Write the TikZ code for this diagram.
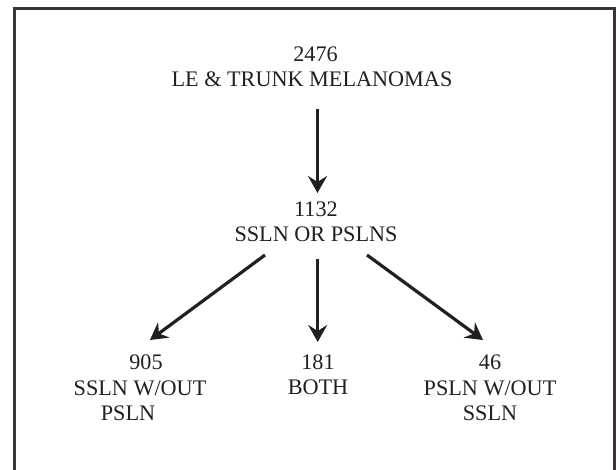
\documentclass[tikz,border=0pt]{standalone}
\usepackage{fontspec}
\setmainfont{Liberation Serif}
\usetikzlibrary{arrows.meta}
\definecolor{ink}{HTML}{231F20}
\tikzset{
  lbl/.style={align=center, inner sep=0pt, text=ink, font=\fontsize{22.3}{25.5}\selectfont},
  arr/.style={draw=ink, line width=3.2bp, -{Stealth[length=17bp,width=19bp,inset=6bp]}},
  frame/.style={draw=ink!90, line width=2.6bp}
}
\begin{document}
\begin{tikzpicture}[x=1bp,y=-1bp]
\useasboundingbox (0,0) rectangle (616,470);
\draw[frame] (14.7,480) -- (14.7,8.3) -- (614.5,8.3) -- (614.5,480);
\node[lbl] (top) at (312,66.5) {\hspace*{7bp}2476\\LE \& TRUNK MELANOMAS};
\node[lbl] (mid) at (316,222) {1132\\SSLN OR PSLNS};
\node[lbl] (left) at (140,388) {\hspace*{12bp}905\\SSLN W/OUT\\PSLN\hspace*{24bp}};
\node[lbl] (both) at (318,375) {181\\BOTH};
\node[lbl] (right) at (490,388) {46\\PSLN W/OUT\\SSLN};
\coordinate (a1s) at (317.5,109);
\coordinate (a1e) at (317.5,193);
\coordinate (a2s) at (265,255);
\coordinate (a2e) at (150,340);
\coordinate (a3s) at (317.7,259);
\coordinate (a3e) at (317.7,342);
\coordinate (a4s) at (367,255);
\coordinate (a4e) at (483,340);
\draw[arr] (a1s) -- (a1e);
\draw[arr] (a2s) -- (a2e);
\draw[arr] (a3s) -- (a3e);
\draw[arr] (a4s) -- (a4e);
\end{tikzpicture}
\end{document}
